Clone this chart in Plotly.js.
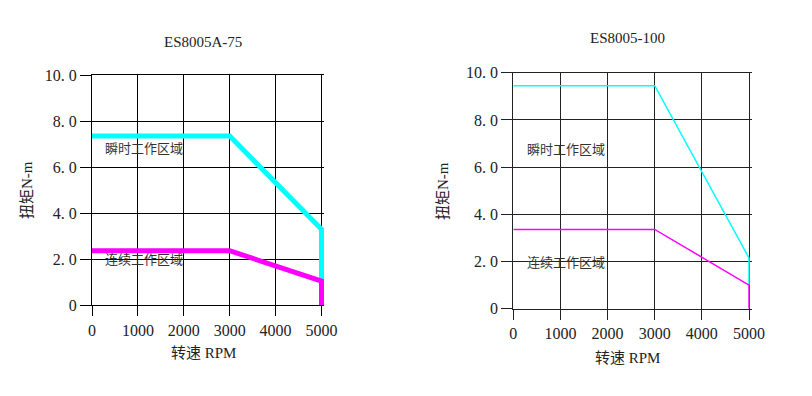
<!DOCTYPE html>
<html>
<head>
<meta charset="utf-8">
<script src="https://cdn.plot.ly/plotly-3.0.1.min.js"></script>
<style>html,body{margin:0;padding:0;background:#fff;}#chart{width:812px;height:396px;}</style>
</head>
<body>
<div id="chart"></div>
<script>
// ---- data ----
const titleLeft = "ES8005A-75";
const titleRight = "ES8005-100";
const xTitle = "转速 RPM";
const yTitle = "扭矩N-m";
const peakLabel = "瞬时工作区域";
const contLabel = "连续工作区域";
const xTicks = [0, 1000, 2000, 3000, 4000, 5000];
const xTickText = ["0", "1000", "2000", "3000", "4000", "5000"];
const yTicks = [0, 2, 4, 6, 8, 10];
const yTickText = ["0", "2. 0", "4. 0", "6. 0", "8. 0", "10. 0"];

// ES8005A-75
const leftPeakRpm = [0, 3000, 5000, 5000];
const leftPeakTorque = [7.35, 7.35, 3.3, 1.0];
const leftContRpm = [0, 3000, 5000, 5000];
const leftContTorque = [2.37, 2.37, 1.05, 0];

// ES8005-100
const rightPeakRpm = [0, 3000, 5000, 5000];
const rightPeakTorque = [9.45, 9.45, 2.15, 1.0];
const rightContRpm = [0, 3000, 5000, 5000];
const rightContTorque = [3.36, 3.36, 1.0, 0];

// label anchor positions (data units)
const leftLabelX = 240, rightLabelX = 250;
const leftPeakLabelY = 6.8, rightPeakLabelY = 6.75;
const contLabelY = 1.97;

const serif = "Liberation Serif, 'Noto Sans CJK SC', serif";
const W = 812, H = 396;
const XMAX = 5060; // small headroom so thick lines at 5000 are not clipped

function xax(domain, anchor, gridcolor) {
  return {
    domain: domain, anchor: anchor, range: [0, XMAX], tickmode: "array", tickvals: xTicks, ticktext: xTickText,
    showgrid: true, gridcolor: gridcolor, gridwidth: 1, zeroline: false,
    showline: true, linecolor: gridcolor, linewidth: 1, mirror: true,
    ticks: "outside", ticklen: 10, tickcolor: gridcolor, tickwidth: 1,
    tickfont: {family: serif, size: 16, color: "#222"}, fixedrange: true
  };
}
function yax(domain, anchor, gridcolor) {
  return {
    domain: domain, anchor: anchor, range: [0, 10], tickmode: "array", tickvals: yTicks, ticktext: yTickText,
    showgrid: true, gridcolor: gridcolor, gridwidth: 1, zeroline: false,
    showline: true, linecolor: gridcolor, linewidth: 1, mirror: false,
    ticks: "outside", ticklen: 11, tickcolor: gridcolor, tickwidth: 1,
    tickfont: {family: serif, size: 16, color: "#222"}, fixedrange: true
  };
}

const traces = [
  {x: leftPeakRpm, y: leftPeakTorque, xaxis: "x", yaxis: "y", mode: "lines",
   line: {color: "#00FFFF", width: 5}, hoverinfo: "skip"},
  {x: leftContRpm, y: leftContTorque, xaxis: "x", yaxis: "y", mode: "lines",
   line: {color: "#FF00FF", width: 5}, hoverinfo: "skip"},
  {x: rightPeakRpm, y: rightPeakTorque, xaxis: "x2", yaxis: "y2", mode: "lines",
   line: {color: "#00FFFF", width: 1.5}, hoverinfo: "skip"},
  {x: rightContRpm, y: rightContTorque, xaxis: "x2", yaxis: "y2", mode: "lines",
   line: {color: "#FF00FF", width: 1.5}, hoverinfo: "skip"}
];

function paperAnn(text, px, py, size, angle) {
  return {text: text, xref: "paper", yref: "paper", x: px / W, y: 1 - py / H,
          xanchor: "center", yanchor: "middle", showarrow: false, textangle: angle || 0,
          font: {family: serif, size: size, color: "#222"}};
}
function dataAnn(text, xr, yr, x, y) {
  return {text: text, xref: xr, yref: yr, x: x, y: y, xanchor: "left", yanchor: "middle",
          showarrow: false, font: {family: serif, size: 13, color: "#333"}};
}

const leftX0 = 92, leftX5000 = 321.5;
const rightX0 = 513.3, rightX5000 = 749;
const leftXEnd = leftX0 + (leftX5000 - leftX0) * XMAX / 5000;
const rightXEnd = rightX0 + (rightX5000 - rightX0) * XMAX / 5000;

const layout = {
  width: W, height: H, margin: {l: 0, r: 0, t: 0, b: 0},
  paper_bgcolor: "#fff", plot_bgcolor: "#fff", showlegend: false,
  xaxis: xax([leftX0 / W, leftXEnd / W], "y", "#000"),
  yaxis: yax([1 - 305.3 / H, 1 - 75 / H], "x", "#000"),
  xaxis2: xax([rightX0 / W, rightXEnd / W], "y2", "#222"),
  yaxis2: yax([1 - 308.7 / H, 1 - 72.7 / H], "x2", "#222"),
  annotations: [
    paperAnn(titleLeft, 203, 42, 15),
    paperAnn(titleRight, 627, 38, 15),
    paperAnn(xTitle, 203, 353, 15),
    paperAnn(xTitle, 627, 358, 15),
    paperAnn(yTitle, 27, 190, 15, -90),
    paperAnn(yTitle, 443, 191, 15, -90),
    dataAnn(peakLabel, "x", "y", leftLabelX, leftPeakLabelY),
    dataAnn(contLabel, "x", "y", leftLabelX, contLabelY),
    dataAnn(peakLabel, "x2", "y2", rightLabelX, rightPeakLabelY),
    dataAnn(contLabel, "x2", "y2", rightLabelX, contLabelY)
  ]
};

Plotly.newPlot("chart", traces, layout, {staticPlot: true, displayModeBar: false});
</script>
</body>
</html>
